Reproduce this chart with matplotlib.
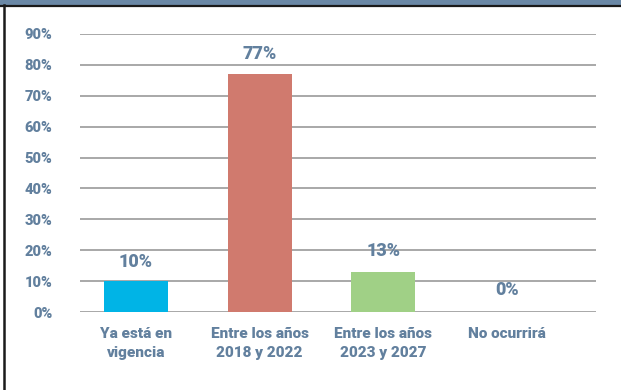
import numpy as np
import matplotlib
matplotlib.use('Agg')
import matplotlib.pyplot as plt
from matplotlib.patches import Rectangle
from matplotlib.lines import Line2D

categories = ['Ya está en\nvigencia', 'Entre los años\n2018 y 2022',
              'Entre los años\n2023 y 2027', 'No ocurrirá']
values = [10, 77, 13, 0]
labels = ['10%', '77%', '13%', '0%']
bar_colors = ['#00b4e6', '#d07a6e', '#a0d086', '#a0d086']
yticks = np.arange(0, 100, 10)

W, H = 621, 390
text_color = '#62809e'
plt.rcParams['font.family'] = ['Roboto', 'DejaVu Sans']

fig = plt.figure(figsize=(W / 100, H / 100), dpi=100)

# frame decorations: blue top band, dark rule, left border
fig.patches.append(Rectangle((0, (H - 4) / H), 1, 4 / H, transform=fig.transFigure,
                             color='#6a88a6', zorder=0))
fig.lines.append(Line2D([0, 1], [(H - 5.5) / H] * 2, transform=fig.transFigure,
                        color='#1a1a1a', lw=1.6))
fig.lines.append(Line2D([4 / W] * 2, [0, (H - 5) / H], transform=fig.transFigure,
                        color='#1a1a1a', lw=1.8))

ax = fig.add_axes([80 / W, (H - 312) / H, (596 - 80) / W, (312 - 34) / H])
x = np.arange(len(categories))
ax.bar(x, values, width=0.52, color=bar_colors, zorder=3)

ax.set_ylim(0, 90)
ax.set_xlim(-0.453, 3.72)
ax.set_yticks(yticks)
ax.set_yticklabels([f'{v}%' for v in yticks])
ax.yaxis.grid(True, color='#a8a8a8', lw=1.4)
ax.set_axisbelow(True)
for s in ax.spines.values():
    s.set_visible(False)
ax.tick_params(axis='y', length=0, pad=20, labelsize=10.5, labelcolor=text_color)
ax.tick_params(axis='x', length=0, pad=11, labelsize=11, labelcolor=text_color)
for t in ax.get_yticklabels():
    t.set_fontweight('black')
ax.set_xticks(x)
ax.set_xticklabels(categories, fontweight='black', linespacing=1.4)

label_y = [262, 54, 251, 290]
for xi, lab, py in zip(x, labels, label_y):
    yv = (312 - py) / (312 - 34) * 90
    ax.text(xi, yv, lab, ha='center', va='center', fontsize=13,
            fontweight='black', color=text_color)

fig.savefig('out.png', dpi=100)
